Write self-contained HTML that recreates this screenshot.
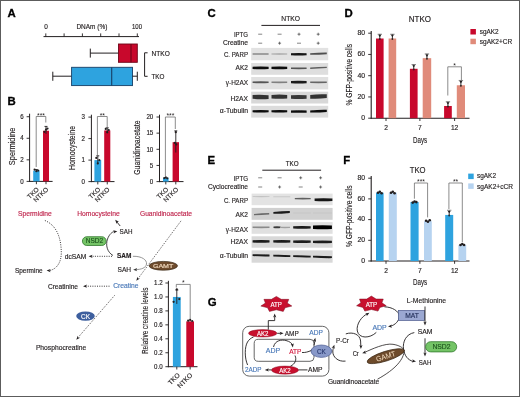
<!DOCTYPE html>
<html><head><meta charset="utf-8"><style>
html,body{margin:0;padding:0;background:#fff;}
svg{display:block;font-family:"Liberation Sans", sans-serif;will-change:transform;}
</style></head><body>
<svg width="520" height="397" viewBox="0 0 520 397">
<defs><filter id="bl" x="-20%" y="-100%" width="140%" height="300%"><feGaussianBlur stdDeviation="0.65"/></filter><filter id="bl2" x="-20%" y="-100%" width="140%" height="300%"><feGaussianBlur stdDeviation="0.45"/></filter></defs>
<rect x="0.5" y="0.5" width="519" height="396" fill="#fff" stroke="#5c5c5c" stroke-width="1"/>
<text x="7.60" y="16.80" font-size="11.4" text-anchor="start" fill="#000" font-weight="bold"  stroke="#000" stroke-width="0.3">A</text>
<text x="7.60" y="104.60" font-size="11.4" text-anchor="start" fill="#000" font-weight="bold"  stroke="#000" stroke-width="0.3">B</text>
<text x="207.60" y="17.20" font-size="11.4" text-anchor="start" fill="#000" font-weight="bold"  stroke="#000" stroke-width="0.3">C</text>
<text x="344.40" y="17.20" font-size="11.4" text-anchor="start" fill="#000" font-weight="bold"  stroke="#000" stroke-width="0.3">D</text>
<text x="207.60" y="164.00" font-size="11.4" text-anchor="start" fill="#000" font-weight="bold"  stroke="#000" stroke-width="0.3">E</text>
<text x="343.20" y="164.00" font-size="11.4" text-anchor="start" fill="#000" font-weight="bold"  stroke="#000" stroke-width="0.3">F</text>
<text x="207.80" y="306.40" font-size="11.4" text-anchor="start" fill="#000" font-weight="bold"  stroke="#000" stroke-width="0.3">G</text>
<line x1="43.50" y1="36.60" x2="139.00" y2="36.60" stroke="#231f20" stroke-width="1" />
<line x1="45.80" y1="33.40" x2="45.80" y2="36.60" stroke="#231f20" stroke-width="0.9" />
<line x1="64.10" y1="33.40" x2="64.10" y2="36.60" stroke="#231f20" stroke-width="0.9" />
<line x1="82.40" y1="33.40" x2="82.40" y2="36.60" stroke="#231f20" stroke-width="0.9" />
<line x1="100.70" y1="33.40" x2="100.70" y2="36.60" stroke="#231f20" stroke-width="0.9" />
<line x1="119.00" y1="33.40" x2="119.00" y2="36.60" stroke="#231f20" stroke-width="0.9" />
<line x1="137.30" y1="33.40" x2="137.30" y2="36.60" stroke="#231f20" stroke-width="0.9" />
<text x="44.20" y="29.30" font-size="6.9" fill="#231f20" font-weight="normal" stroke="#231f20" stroke-width="0.15" textLength="3.60" lengthAdjust="spacingAndGlyphs" >0</text>
<text x="76.40" y="29.30" font-size="6.9" fill="#231f20" font-weight="normal" stroke="#231f20" stroke-width="0.15" textLength="30.90" lengthAdjust="spacingAndGlyphs" >DNAm (%)</text>
<text x="132.00" y="29.30" font-size="6.9" fill="#231f20" font-weight="normal" stroke="#231f20" stroke-width="0.15" textLength="10.00" lengthAdjust="spacingAndGlyphs" >100</text>
<line x1="90.30" y1="48.60" x2="90.30" y2="57.60" stroke="#231f20" stroke-width="1" />
<line x1="90.30" y1="53.10" x2="118.50" y2="53.10" stroke="#231f20" stroke-width="1" />
<rect x="118.50" y="44.00" width="18.80" height="18.30" fill="#c8082c" stroke="#6e0618" stroke-width="0.9" />
<line x1="131.00" y1="44.00" x2="131.00" y2="62.30" stroke="#6e0618" stroke-width="1.1" />
<line x1="52.80" y1="71.70" x2="52.80" y2="80.80" stroke="#231f20" stroke-width="1" />
<line x1="52.80" y1="76.20" x2="71.60" y2="76.20" stroke="#231f20" stroke-width="1" />
<rect x="71.60" y="67.30" width="60.90" height="18.30" fill="#2ea3df" stroke="#173f66" stroke-width="0.9" />
<line x1="111.70" y1="67.30" x2="111.70" y2="85.60" stroke="#173f66" stroke-width="1.1" />
<line x1="132.50" y1="76.20" x2="137.30" y2="76.20" stroke="#231f20" stroke-width="1" />
<line x1="137.30" y1="71.70" x2="137.30" y2="80.80" stroke="#231f20" stroke-width="1" />
<path d="M147.6,52.8 H144.6 V76.3 H147.6" stroke="#231f20" stroke-width="1" fill="none" />
<text x="151.50" y="55.60" font-size="6.9" fill="#231f20" font-weight="normal" stroke="#231f20" stroke-width="0.15" textLength="18.30" lengthAdjust="spacingAndGlyphs" >NTKO</text>
<text x="151.50" y="78.80" font-size="6.9" fill="#231f20" font-weight="normal" stroke="#231f20" stroke-width="0.15" textLength="13.00" lengthAdjust="spacingAndGlyphs" >TKO</text>
<line x1="29.60" y1="113.70" x2="29.60" y2="181.90" stroke="#231f20" stroke-width="1" />
<line x1="29.10" y1="181.40" x2="52.60" y2="181.40" stroke="#231f20" stroke-width="1" />
<line x1="26.60" y1="181.40" x2="29.60" y2="181.40" stroke="#231f20" stroke-width="0.9" />
<text x="20.35" y="183.60" font-size="6.3" fill="#231f20" font-weight="normal" stroke="#231f20" stroke-width="0.15" textLength="3.45" lengthAdjust="spacingAndGlyphs" >0</text>
<line x1="26.60" y1="159.84" x2="29.60" y2="159.84" stroke="#231f20" stroke-width="0.9" />
<text x="20.35" y="162.04" font-size="6.3" fill="#231f20" font-weight="normal" stroke="#231f20" stroke-width="0.15" textLength="3.45" lengthAdjust="spacingAndGlyphs" >2</text>
<line x1="26.60" y1="138.28" x2="29.60" y2="138.28" stroke="#231f20" stroke-width="0.9" />
<text x="20.35" y="140.48" font-size="6.3" fill="#231f20" font-weight="normal" stroke="#231f20" stroke-width="0.15" textLength="3.45" lengthAdjust="spacingAndGlyphs" >4</text>
<line x1="26.60" y1="116.72" x2="29.60" y2="116.72" stroke="#231f20" stroke-width="0.9" />
<text x="20.35" y="118.92" font-size="6.3" fill="#231f20" font-weight="normal" stroke="#231f20" stroke-width="0.15" textLength="3.45" lengthAdjust="spacingAndGlyphs" >6</text>
<rect x="33.20" y="170.62" width="6.40" height="10.78" fill="#2ea3df" stroke="none" stroke-width="0" />
<line x1="36.40" y1="181.40" x2="36.40" y2="184.20" stroke="#231f20" stroke-width="0.9" />
<line x1="36.40" y1="171.70" x2="36.40" y2="169.54" stroke="#231f20" stroke-width="0.9" />
<line x1="34.90" y1="169.54" x2="37.90" y2="169.54" stroke="#231f20" stroke-width="0.9" />
<circle cx="34.60" cy="169.54" r="1.1" fill="#231f20"/>
<circle cx="36.40" cy="171.16" r="1.1" fill="#231f20"/>
<circle cx="38.20" cy="170.62" r="1.1" fill="#231f20"/>
<rect x="43.00" y="130.73" width="6.00" height="50.67" fill="#c8082c" stroke="none" stroke-width="0" />
<line x1="46.00" y1="181.40" x2="46.00" y2="184.20" stroke="#231f20" stroke-width="0.9" />
<line x1="46.00" y1="133.97" x2="46.00" y2="126.42" stroke="#231f20" stroke-width="0.9" />
<line x1="44.50" y1="126.42" x2="47.50" y2="126.42" stroke="#231f20" stroke-width="0.9" />
<circle cx="44.50" cy="131.81" r="1.1" fill="#231f20"/>
<circle cx="46.00" cy="129.66" r="1.1" fill="#231f20"/>
<circle cx="47.50" cy="128.58" r="1.1" fill="#231f20"/>
<path d="M36.2,167 V116.5 H45.8 V122.5" stroke="#666" stroke-width="0.75" fill="none" />
<text x="41.00" y="117.50" font-size="6.8" text-anchor="middle" fill="#231f20" font-weight="normal"  stroke="none">***</text>
<text x="0" y="0" font-size="8.2" text-anchor="middle" fill="#231f20" stroke="#231f20" stroke-width="0.15" textLength="37.5" lengthAdjust="spacingAndGlyphs" transform="translate(14.6,146.4) rotate(-90)">Spermidine</text>
<line x1="91.40" y1="114.70" x2="91.40" y2="182.10" stroke="#231f20" stroke-width="1" />
<line x1="90.90" y1="181.60" x2="114.50" y2="181.60" stroke="#231f20" stroke-width="1" />
<line x1="88.40" y1="181.60" x2="91.40" y2="181.60" stroke="#231f20" stroke-width="0.9" />
<text x="81.55" y="183.80" font-size="6.3" fill="#231f20" font-weight="normal" stroke="#231f20" stroke-width="0.15" textLength="3.45" lengthAdjust="spacingAndGlyphs" >0</text>
<line x1="88.40" y1="160.10" x2="91.40" y2="160.10" stroke="#231f20" stroke-width="0.9" />
<text x="81.55" y="162.30" font-size="6.3" fill="#231f20" font-weight="normal" stroke="#231f20" stroke-width="0.15" textLength="3.45" lengthAdjust="spacingAndGlyphs" >1</text>
<line x1="88.40" y1="138.60" x2="91.40" y2="138.60" stroke="#231f20" stroke-width="0.9" />
<text x="81.55" y="140.80" font-size="6.3" fill="#231f20" font-weight="normal" stroke="#231f20" stroke-width="0.15" textLength="3.45" lengthAdjust="spacingAndGlyphs" >2</text>
<line x1="88.40" y1="117.10" x2="91.40" y2="117.10" stroke="#231f20" stroke-width="0.9" />
<text x="81.55" y="119.30" font-size="6.3" fill="#231f20" font-weight="normal" stroke="#231f20" stroke-width="0.15" textLength="3.45" lengthAdjust="spacingAndGlyphs" >3</text>
<rect x="94.40" y="160.10" width="6.80" height="21.50" fill="#2ea3df" stroke="none" stroke-width="0" />
<line x1="97.80" y1="181.60" x2="97.80" y2="184.40" stroke="#231f20" stroke-width="0.9" />
<line x1="97.80" y1="164.40" x2="97.80" y2="155.80" stroke="#231f20" stroke-width="0.9" />
<line x1="96.30" y1="155.80" x2="99.30" y2="155.80" stroke="#231f20" stroke-width="0.9" />
<circle cx="96.30" cy="157.95" r="1.1" fill="#231f20"/>
<circle cx="97.80" cy="163.32" r="1.1" fill="#231f20"/>
<circle cx="99.30" cy="160.10" r="1.1" fill="#231f20"/>
<rect x="104.20" y="130.43" width="6.10" height="51.17" fill="#c8082c" stroke="none" stroke-width="0" />
<line x1="107.25" y1="181.60" x2="107.25" y2="184.40" stroke="#231f20" stroke-width="0.9" />
<line x1="107.25" y1="133.22" x2="107.25" y2="127.85" stroke="#231f20" stroke-width="0.9" />
<line x1="105.75" y1="127.85" x2="108.75" y2="127.85" stroke="#231f20" stroke-width="0.9" />
<circle cx="105.75" cy="128.92" r="1.1" fill="#231f20"/>
<circle cx="107.25" cy="132.15" r="1.1" fill="#231f20"/>
<circle cx="108.75" cy="130.00" r="1.1" fill="#231f20"/>
<path d="M97.4,156.5 V116.5 H107.2 V128.3" stroke="#666" stroke-width="0.75" fill="none" />
<text x="102.30" y="117.50" font-size="6.8" text-anchor="middle" fill="#231f20" font-weight="normal"  stroke="none">**</text>
<text x="0" y="0" font-size="8.2" text-anchor="middle" fill="#231f20" stroke="#231f20" stroke-width="0.15" textLength="44" lengthAdjust="spacingAndGlyphs" transform="translate(74.9,148) rotate(-90)">Homocysteine</text>
<line x1="159.50" y1="114.70" x2="159.50" y2="182.10" stroke="#231f20" stroke-width="1" />
<line x1="159.00" y1="181.60" x2="183.50" y2="181.60" stroke="#231f20" stroke-width="1" />
<line x1="156.50" y1="181.60" x2="159.50" y2="181.60" stroke="#231f20" stroke-width="0.9" />
<text x="149.85" y="183.80" font-size="6.3" fill="#231f20" font-weight="normal" stroke="#231f20" stroke-width="0.15" textLength="3.45" lengthAdjust="spacingAndGlyphs" >0</text>
<line x1="156.50" y1="165.45" x2="159.50" y2="165.45" stroke="#231f20" stroke-width="0.9" />
<text x="149.85" y="167.65" font-size="6.3" fill="#231f20" font-weight="normal" stroke="#231f20" stroke-width="0.15" textLength="3.45" lengthAdjust="spacingAndGlyphs" >5</text>
<line x1="156.50" y1="149.30" x2="159.50" y2="149.30" stroke="#231f20" stroke-width="0.9" />
<text x="146.40" y="151.50" font-size="6.3" fill="#231f20" font-weight="normal" stroke="#231f20" stroke-width="0.15" textLength="6.90" lengthAdjust="spacingAndGlyphs" >10</text>
<line x1="156.50" y1="133.15" x2="159.50" y2="133.15" stroke="#231f20" stroke-width="0.9" />
<text x="146.40" y="135.35" font-size="6.3" fill="#231f20" font-weight="normal" stroke="#231f20" stroke-width="0.15" textLength="6.90" lengthAdjust="spacingAndGlyphs" >15</text>
<line x1="156.50" y1="117.00" x2="159.50" y2="117.00" stroke="#231f20" stroke-width="0.9" />
<text x="146.40" y="119.20" font-size="6.3" fill="#231f20" font-weight="normal" stroke="#231f20" stroke-width="0.15" textLength="6.90" lengthAdjust="spacingAndGlyphs" >20</text>
<rect x="163.00" y="177.72" width="5.60" height="3.88" fill="#2ea3df" stroke="none" stroke-width="0" />
<line x1="165.80" y1="181.60" x2="165.80" y2="184.40" stroke="#231f20" stroke-width="0.9" />
<circle cx="164.30" cy="178.05" r="1.1" fill="#231f20"/>
<circle cx="165.80" cy="177.40" r="1.1" fill="#231f20"/>
<circle cx="167.30" cy="178.37" r="1.1" fill="#231f20"/>
<rect x="172.60" y="142.19" width="6.40" height="39.41" fill="#c8082c" stroke="none" stroke-width="0" />
<line x1="175.80" y1="181.60" x2="175.80" y2="184.40" stroke="#231f20" stroke-width="0.9" />
<line x1="175.80" y1="152.53" x2="175.80" y2="130.89" stroke="#231f20" stroke-width="0.9" />
<line x1="174.30" y1="130.89" x2="177.30" y2="130.89" stroke="#231f20" stroke-width="0.9" />
<circle cx="175.80" cy="132.18" r="1.1" fill="#231f20"/>
<circle cx="174.80" cy="142.84" r="1.1" fill="#231f20"/>
<circle cx="176.30" cy="144.45" r="1.1" fill="#231f20"/>
<path d="M165.4,176 V117 H175.3 V129" stroke="#666" stroke-width="0.75" fill="none" />
<text x="170.35" y="118.00" font-size="6.8" text-anchor="middle" fill="#231f20" font-weight="normal"  stroke="none">***</text>
<text x="0" y="0" font-size="8.2" text-anchor="middle" fill="#231f20" stroke="#231f20" stroke-width="0.15" textLength="54.4" lengthAdjust="spacingAndGlyphs" transform="translate(140,147.6) rotate(-90)">Guanidinoacetate</text>
<line x1="168.40" y1="280.80" x2="168.40" y2="367.20" stroke="#231f20" stroke-width="1" />
<line x1="167.90" y1="366.70" x2="197.50" y2="366.70" stroke="#231f20" stroke-width="1" />
<line x1="165.40" y1="366.70" x2="168.40" y2="366.70" stroke="#231f20" stroke-width="0.9" />
<text x="154.00" y="368.90" font-size="6.3" fill="#231f20" font-weight="normal" stroke="#231f20" stroke-width="0.15" textLength="8.60" lengthAdjust="spacingAndGlyphs" >0.0</text>
<line x1="165.40" y1="352.75" x2="168.40" y2="352.75" stroke="#231f20" stroke-width="0.9" />
<text x="154.00" y="354.95" font-size="6.3" fill="#231f20" font-weight="normal" stroke="#231f20" stroke-width="0.15" textLength="8.60" lengthAdjust="spacingAndGlyphs" >0.2</text>
<line x1="165.40" y1="338.80" x2="168.40" y2="338.80" stroke="#231f20" stroke-width="0.9" />
<text x="154.00" y="341.00" font-size="6.3" fill="#231f20" font-weight="normal" stroke="#231f20" stroke-width="0.15" textLength="8.60" lengthAdjust="spacingAndGlyphs" >0.4</text>
<line x1="165.40" y1="324.85" x2="168.40" y2="324.85" stroke="#231f20" stroke-width="0.9" />
<text x="154.00" y="327.05" font-size="6.3" fill="#231f20" font-weight="normal" stroke="#231f20" stroke-width="0.15" textLength="8.60" lengthAdjust="spacingAndGlyphs" >0.6</text>
<line x1="165.40" y1="310.90" x2="168.40" y2="310.90" stroke="#231f20" stroke-width="0.9" />
<text x="154.00" y="313.10" font-size="6.3" fill="#231f20" font-weight="normal" stroke="#231f20" stroke-width="0.15" textLength="8.60" lengthAdjust="spacingAndGlyphs" >0.8</text>
<line x1="165.40" y1="296.95" x2="168.40" y2="296.95" stroke="#231f20" stroke-width="0.9" />
<text x="154.00" y="299.15" font-size="6.3" fill="#231f20" font-weight="normal" stroke="#231f20" stroke-width="0.15" textLength="8.60" lengthAdjust="spacingAndGlyphs" >1.0</text>
<line x1="165.40" y1="283.00" x2="168.40" y2="283.00" stroke="#231f20" stroke-width="0.9" />
<text x="154.00" y="285.20" font-size="6.3" fill="#231f20" font-weight="normal" stroke="#231f20" stroke-width="0.15" textLength="8.60" lengthAdjust="spacingAndGlyphs" >1.2</text>
<rect x="172.90" y="296.95" width="7.80" height="69.75" fill="#2ea3df" stroke="none" stroke-width="0" />
<line x1="176.80" y1="366.70" x2="176.80" y2="369.50" stroke="#231f20" stroke-width="0.9" />
<line x1="176.80" y1="303.93" x2="176.80" y2="289.97" stroke="#231f20" stroke-width="0.9" />
<line x1="175.30" y1="289.97" x2="178.30" y2="289.97" stroke="#231f20" stroke-width="0.9" />
<circle cx="176.80" cy="289.28" r="1.1" fill="#231f20"/>
<circle cx="173.60" cy="301.83" r="1.1" fill="#231f20"/>
<circle cx="179.30" cy="299.04" r="1.1" fill="#231f20"/>
<rect x="186.30" y="321.36" width="7.70" height="45.34" fill="#c8082c" stroke="none" stroke-width="0" />
<line x1="190.15" y1="366.70" x2="190.15" y2="369.50" stroke="#231f20" stroke-width="0.9" />
<circle cx="188.15" cy="320.66" r="1.1" fill="#231f20"/>
<circle cx="190.15" cy="319.97" r="1.1" fill="#231f20"/>
<circle cx="192.15" cy="321.01" r="1.1" fill="#231f20"/>
<path d="M176.3,287.5 V284.4 H190.2 V319" stroke="#666" stroke-width="0.75" fill="none" />
<text x="183.25" y="285.40" font-size="6.8" text-anchor="middle" fill="#231f20" font-weight="normal"  stroke="none">*</text>
<text x="0" y="0" font-size="9.2" text-anchor="middle" fill="#231f20" stroke="#231f20" stroke-width="0.15" textLength="66.5" lengthAdjust="spacingAndGlyphs" transform="translate(148.0,320.8) rotate(-90)">Relative creatine levels</text>
<text x="0" y="0" font-size="6.5" text-anchor="end" fill="#231f20" stroke="#231f20" stroke-width="0.15" transform="translate(39.30,189.80) rotate(-45)">TKO</text>
<text x="0" y="0" font-size="6.5" text-anchor="end" fill="#231f20" stroke="#231f20" stroke-width="0.15" transform="translate(48.80,189.80) rotate(-45)">NTKO</text>
<text x="0" y="0" font-size="6.5" text-anchor="end" fill="#231f20" stroke="#231f20" stroke-width="0.15" transform="translate(100.80,189.80) rotate(-45)">TKO</text>
<text x="0" y="0" font-size="6.5" text-anchor="end" fill="#231f20" stroke="#231f20" stroke-width="0.15" transform="translate(110.20,189.80) rotate(-45)">NTKO</text>
<text x="0" y="0" font-size="6.5" text-anchor="end" fill="#231f20" stroke="#231f20" stroke-width="0.15" transform="translate(168.80,189.80) rotate(-45)">TKO</text>
<text x="0" y="0" font-size="6.5" text-anchor="end" fill="#231f20" stroke="#231f20" stroke-width="0.15" transform="translate(178.80,189.80) rotate(-45)">NTKO</text>
<text x="0" y="0" font-size="6.6" text-anchor="end" fill="#231f20" stroke="#231f20" stroke-width="0.15" transform="translate(180.30,375.60) rotate(-45)">TKO</text>
<text x="0" y="0" font-size="6.6" text-anchor="end" fill="#231f20" stroke="#231f20" stroke-width="0.15" transform="translate(193.00,375.60) rotate(-45)">NTKO</text>
<text x="18.00" y="216.40" font-size="6.6" fill="#c0284f" font-weight="normal" stroke="#c0284f" stroke-width="0.15" textLength="33.80" lengthAdjust="spacingAndGlyphs" >Spermidine</text>
<text x="77.20" y="216.40" font-size="6.6" fill="#c0284f" font-weight="normal" stroke="#c0284f" stroke-width="0.15" textLength="42.60" lengthAdjust="spacingAndGlyphs" >Homocysteine</text>
<text x="140.00" y="216.40" font-size="6.6" fill="#c0284f" font-weight="normal" stroke="#c0284f" stroke-width="0.15" textLength="52.00" lengthAdjust="spacingAndGlyphs" >Guanidinoacetate</text>
<text x="119.60" y="233.60" font-size="6.6" fill="#231f20" font-weight="normal" stroke="#231f20" stroke-width="0.15" textLength="12.90" lengthAdjust="spacingAndGlyphs" >SAH</text>
<text x="117.00" y="258.40" font-size="6.6" fill="#231f20" font-weight="bold" stroke="#231f20" stroke-width="0.15" textLength="14.50" lengthAdjust="spacingAndGlyphs" >SAM</text>
<text x="64.70" y="258.70" font-size="6.6" fill="#231f20" font-weight="normal" stroke="#231f20" stroke-width="0.15" textLength="21.60" lengthAdjust="spacingAndGlyphs" >dcSAM</text>
<text x="117.50" y="271.60" font-size="6.6" fill="#231f20" font-weight="normal" stroke="#231f20" stroke-width="0.15" textLength="13.60" lengthAdjust="spacingAndGlyphs" >SAH</text>
<text x="14.90" y="272.60" font-size="6.6" fill="#231f20" font-weight="normal" stroke="#231f20" stroke-width="0.15" textLength="27.70" lengthAdjust="spacingAndGlyphs" >Spermine</text>
<text x="47.90" y="288.60" font-size="6.6" fill="#231f20" font-weight="normal" stroke="#231f20" stroke-width="0.15" textLength="30.10" lengthAdjust="spacingAndGlyphs" >Creatinine</text>
<text x="113.20" y="288.20" font-size="6.6" fill="#4a79b8" font-weight="normal" stroke="#4a79b8" stroke-width="0.15" textLength="25.30" lengthAdjust="spacingAndGlyphs" >Creatine</text>
<text x="35.90" y="349.60" font-size="6.6" fill="#231f20" font-weight="normal" stroke="#231f20" stroke-width="0.15" textLength="50.40" lengthAdjust="spacingAndGlyphs" >Phosphocreatine</text>
<rect x="82.40" y="236.70" width="23.80" height="8.80" fill="#74c466" stroke="#347a30" stroke-width="0.8" rx="4.4"/>
<text x="85.80" y="243.20" font-size="6.7" fill="#1c521c" font-weight="normal" stroke="#1c521c" stroke-width="0.15" textLength="17.40" lengthAdjust="spacingAndGlyphs" >NSD2</text>
<ellipse cx="163.30" cy="265.80" rx="14.20" ry="4.40" fill="#6e4b2c" stroke="#3a2816" stroke-width="0.7" />
<text x="152.90" y="268.00" font-size="6.2" fill="#f2dcc0" font-weight="normal" stroke="#f2dcc0" stroke-width="0.15" textLength="20.40" lengthAdjust="spacingAndGlyphs" >GAMT</text>
<ellipse cx="85.50" cy="316.10" rx="9.30" ry="4.70" fill="#3d5f9e" stroke="none" stroke-width="0" />
<text x="81.00" y="318.60" font-size="6.4" fill="#fff" font-weight="normal" stroke="#fff" stroke-width="0.15" textLength="9.00" lengthAdjust="spacingAndGlyphs" >CK</text>
<path d="M44.9,220.5 C58,226 61,240 61.3,252 C61.5,262 57,269 49.5,270.6" stroke="#231f20" stroke-width="0.9" fill="none" stroke-dasharray="1 1.3"/>
<path d="M46.60,270.60 L50.60,269.00 L49.60,270.60 L50.60,272.20 Z" fill="#231f20"/>
<path d="M112,256.3 H91" stroke="#231f20" stroke-width="0.9" fill="none" stroke-dasharray="1 1.3"/>
<path d="M88.60,256.30 L92.60,254.70 L91.60,256.30 L92.60,257.90 Z" fill="#231f20"/>
<path d="M109.5,286.2 H86" stroke="#231f20" stroke-width="0.9" fill="none" stroke-dasharray="1 1.3"/>
<path d="M83.00,286.20 L87.00,284.60 L86.00,286.20 L87.00,287.80 Z" fill="#231f20"/>
<line x1="120.20" y1="226.00" x2="116.60" y2="221.60" stroke="#231f20" stroke-width="0.9" />
<path d="M115.20,219.80 L119.00,221.84 L117.13,222.10 L116.55,223.89 Z" fill="#231f20"/>
<path d="M113,255.5 C107,252 105.5,245 107.5,239 C109.5,234 112,232 114.5,231.4" stroke="#333" stroke-width="0.9" fill="none" />
<path d="M117.30,231.20 L113.64,233.47 L114.35,231.72 L113.08,230.32 Z" fill="#231f20"/>
<path d="M132.9,256.3 C142,256 147,260 146.5,264 C146,268 141,269.5 136,269.6" stroke="#8a8a8a" stroke-width="0.9" fill="none" />
<path d="M133.20,269.70 L137.20,268.10 L136.20,269.70 L137.20,271.30 Z" fill="#333"/>
<path d="M181,220.9 L138.3,278.3" stroke="#231f20" stroke-width="0.8" fill="none" stroke-dasharray="1 1.3"/>
<path d="M136.30,280.80 L137.43,276.64 L138.11,278.40 L139.99,278.57 Z" fill="#231f20"/>
<path d="M114.6,295.4 L78.5,337" stroke="#231f20" stroke-width="0.8" fill="none" stroke-dasharray="1 1.3"/>
<path d="M76.30,339.80 L77.72,335.73 L78.27,337.54 L80.13,337.83 Z" fill="#231f20"/>
<text x="281.30" y="21.00" font-size="6.9" fill="#231f20" font-weight="normal" stroke="#231f20" stroke-width="0.15" textLength="18.70" lengthAdjust="spacingAndGlyphs" >NTKO</text>
<line x1="261.40" y1="25.40" x2="320.00" y2="25.40" stroke="#231f20" stroke-width="1" />
<text x="233.90" y="37.20" font-size="6.8" fill="#231f20" font-weight="normal" stroke="#231f20" stroke-width="0.15" textLength="14.10" lengthAdjust="spacingAndGlyphs" >IPTG</text>
<text x="222.90" y="45.40" font-size="6.8" fill="#231f20" font-weight="normal" stroke="#231f20" stroke-width="0.15" textLength="25.10" lengthAdjust="spacingAndGlyphs" >Creatine</text>
<line x1="258.20" y1="34.20" x2="262.20" y2="34.20" stroke="#333" stroke-width="0.6" />
<line x1="258.20" y1="43.20" x2="262.20" y2="43.20" stroke="#333" stroke-width="0.6" />
<line x1="277.60" y1="34.20" x2="281.60" y2="34.20" stroke="#333" stroke-width="0.6" />
<line x1="278.10" y1="43.20" x2="281.10" y2="43.20" stroke="#333" stroke-width="0.65" />
<line x1="279.60" y1="41.70" x2="279.60" y2="44.70" stroke="#333" stroke-width="0.65" />
<line x1="297.50" y1="34.20" x2="300.50" y2="34.20" stroke="#333" stroke-width="0.65" />
<line x1="299.00" y1="32.70" x2="299.00" y2="35.70" stroke="#333" stroke-width="0.65" />
<line x1="297.00" y1="43.20" x2="301.00" y2="43.20" stroke="#333" stroke-width="0.6" />
<line x1="316.70" y1="34.20" x2="319.70" y2="34.20" stroke="#333" stroke-width="0.65" />
<line x1="318.20" y1="32.70" x2="318.20" y2="35.70" stroke="#333" stroke-width="0.65" />
<line x1="316.70" y1="43.20" x2="319.70" y2="43.20" stroke="#333" stroke-width="0.65" />
<line x1="318.20" y1="41.70" x2="318.20" y2="44.70" stroke="#333" stroke-width="0.65" />
<rect x="251.20" y="47.90" width="77.00" height="12.40" fill="#e2e2e2" stroke="none" stroke-width="0" />
<path d="M252.60,53.36 Q260.60,53.08 268.60,53.36 L268.60,54.64 Q260.60,54.92 252.60,54.64 Z" fill="#888" filter="url(#bl)"/>
<path d="M271.50,53.44 Q279.35,53.20 287.20,53.44 L287.20,54.56 Q279.35,54.80 271.50,54.56 Z" fill="#a6a6a6" filter="url(#bl)"/>
<path d="M291.00,53.16 Q298.80,52.71 306.60,53.16 L306.60,55.24 Q298.80,55.70 291.00,55.24 Z" fill="#151515" filter="url(#bl)"/>
<path d="M310.20,53.20 Q318.50,52.55 326.80,52.60 L326.80,54.20 Q318.50,54.85 310.20,54.80 Z" fill="#505050" filter="url(#bl)"/>
<rect x="251.20" y="63.00" width="77.00" height="11.80" fill="#dedede" stroke="none" stroke-width="0" />
<path d="M252.60,66.68 Q260.60,66.19 268.60,66.68 L268.60,68.92 Q260.60,69.41 252.60,68.92 Z" fill="#0a0a0a" filter="url(#bl)"/>
<path d="M271.50,66.68 Q279.35,66.19 287.20,66.68 L287.20,68.92 Q279.35,69.41 271.50,68.92 Z" fill="#0a0a0a" filter="url(#bl)"/>
<path d="M291.00,67.58 Q298.80,67.27 306.60,67.58 L306.60,69.02 Q298.80,69.33 291.00,69.02 Z" fill="#555" filter="url(#bl)"/>
<path d="M310.20,67.48 Q318.50,66.77 326.80,66.68 L326.80,68.12 Q318.50,68.83 310.20,68.92 Z" fill="#606060" filter="url(#bl)"/>
<rect x="251.20" y="77.00" width="77.00" height="12.40" fill="#e0e0e0" stroke="none" stroke-width="0" />
<path d="M252.60,81.50 Q260.60,81.15 268.60,81.50 L268.60,83.10 Q260.60,83.45 252.60,83.10 Z" fill="#555" filter="url(#bl)"/>
<path d="M271.50,81.62 Q279.35,81.32 287.20,81.62 L287.20,82.98 Q279.35,83.28 271.50,82.98 Z" fill="#808080" filter="url(#bl)"/>
<path d="M291.00,81.04 Q298.80,80.53 306.60,81.04 L306.60,83.36 Q298.80,83.87 291.00,83.36 Z" fill="#1a1a1a" filter="url(#bl)"/>
<path d="M310.20,81.54 Q318.50,81.21 326.80,81.54 L326.80,83.06 Q318.50,83.39 310.20,83.06 Z" fill="#666" filter="url(#bl)"/>
<rect x="251.20" y="91.70" width="77.00" height="11.80" fill="#d8d8d8" stroke="none" stroke-width="0" />
<path d="M252.60,95.06 Q260.60,94.41 268.60,95.36 L268.60,99.04 Q260.60,99.70 252.60,98.74 Z" fill="#333" filter="url(#bl)"/>
<path d="M271.50,94.94 Q279.35,94.17 287.20,94.94 L287.20,98.46 Q279.35,99.23 271.50,98.46 Z" fill="#333" filter="url(#bl)"/>
<path d="M291.00,95.32 Q298.80,94.58 306.60,95.32 L306.60,98.68 Q298.80,99.42 291.00,98.68 Z" fill="#383838" filter="url(#bl)"/>
<path d="M310.20,94.96 Q318.50,93.86 326.80,94.36 L326.80,98.04 Q318.50,99.14 310.20,98.64 Z" fill="#333" filter="url(#bl)"/>
<rect x="251.20" y="105.80" width="77.00" height="11.80" fill="#dcdcdc" stroke="none" stroke-width="0" />
<path d="M252.60,110.26 Q260.60,109.80 268.60,110.26 L268.60,112.34 Q260.60,112.80 252.60,112.34 Z" fill="#0a0a0a" filter="url(#bl)"/>
<path d="M271.50,110.26 Q279.35,109.80 287.20,110.26 L287.20,112.34 Q279.35,112.80 271.50,112.34 Z" fill="#0a0a0a" filter="url(#bl)"/>
<path d="M291.00,110.56 Q298.80,110.10 306.60,110.56 L306.60,112.64 Q298.80,113.09 291.00,112.64 Z" fill="#0a0a0a" filter="url(#bl)"/>
<path d="M310.20,110.46 Q318.50,109.70 326.80,109.86 L326.80,111.94 Q318.50,112.70 310.20,112.54 Z" fill="#0a0a0a" filter="url(#bl)"/>
<text x="223.90" y="57.20" font-size="6.8" fill="#231f20" font-weight="normal" stroke="#231f20" stroke-width="0.15" textLength="24.10" lengthAdjust="spacingAndGlyphs" >C. PARP</text>
<text x="235.60" y="70.00" font-size="6.8" fill="#231f20" font-weight="normal" stroke="#231f20" stroke-width="0.15" textLength="12.40" lengthAdjust="spacingAndGlyphs" >AK2</text>
<text x="225.80" y="84.80" font-size="6.8" fill="#231f20" font-weight="normal" stroke="#231f20" stroke-width="0.15" textLength="22.20" lengthAdjust="spacingAndGlyphs" >γ-H2AX</text>
<text x="230.50" y="100.80" font-size="6.8" fill="#231f20" font-weight="normal" stroke="#231f20" stroke-width="0.15" textLength="17.50" lengthAdjust="spacingAndGlyphs" >H2AX</text>
<text x="219.70" y="113.40" font-size="6.8" fill="#231f20" font-weight="normal" stroke="#231f20" stroke-width="0.15" textLength="28.30" lengthAdjust="spacingAndGlyphs" >α-Tubulin</text>
<text x="285.70" y="166.10" font-size="6.9" fill="#231f20" font-weight="normal" stroke="#231f20" stroke-width="0.15" textLength="12.90" lengthAdjust="spacingAndGlyphs" >TKO</text>
<line x1="262.30" y1="170.20" x2="321.10" y2="170.20" stroke="#231f20" stroke-width="1" />
<text x="233.60" y="181.20" font-size="6.8" fill="#231f20" font-weight="normal" stroke="#231f20" stroke-width="0.15" textLength="14.40" lengthAdjust="spacingAndGlyphs" >IPTG</text>
<text x="208.00" y="189.30" font-size="6.8" fill="#231f20" font-weight="normal" stroke="#231f20" stroke-width="0.15" textLength="40.00" lengthAdjust="spacingAndGlyphs" >Cyclocreatine</text>
<line x1="258.20" y1="177.80" x2="262.20" y2="177.80" stroke="#333" stroke-width="0.6" />
<line x1="258.20" y1="187.00" x2="262.20" y2="187.00" stroke="#333" stroke-width="0.6" />
<line x1="277.60" y1="177.80" x2="281.60" y2="177.80" stroke="#333" stroke-width="0.6" />
<line x1="278.10" y1="187.00" x2="281.10" y2="187.00" stroke="#333" stroke-width="0.65" />
<line x1="279.60" y1="185.50" x2="279.60" y2="188.50" stroke="#333" stroke-width="0.65" />
<line x1="299.20" y1="177.80" x2="302.20" y2="177.80" stroke="#333" stroke-width="0.65" />
<line x1="300.70" y1="176.30" x2="300.70" y2="179.30" stroke="#333" stroke-width="0.65" />
<line x1="298.70" y1="187.00" x2="302.70" y2="187.00" stroke="#333" stroke-width="0.6" />
<line x1="319.10" y1="177.80" x2="322.10" y2="177.80" stroke="#333" stroke-width="0.65" />
<line x1="320.60" y1="176.30" x2="320.60" y2="179.30" stroke="#333" stroke-width="0.65" />
<line x1="319.10" y1="187.00" x2="322.10" y2="187.00" stroke="#333" stroke-width="0.65" />
<line x1="320.60" y1="185.50" x2="320.60" y2="188.50" stroke="#333" stroke-width="0.65" />
<rect x="251.60" y="193.60" width="81.00" height="11.60" fill="#e3e3e3" stroke="none" stroke-width="0" />
<path d="M252.60,196.16 Q261.05,195.97 269.50,196.16 L269.50,197.04 Q261.05,197.23 252.60,197.04 Z" fill="#c2c2c2" filter="url(#bl)"/>
<path d="M273.30,196.36 Q281.80,196.17 290.30,196.36 L290.30,197.24 Q281.80,197.43 273.30,197.24 Z" fill="#c8c8c8" filter="url(#bl)"/>
<path d="M294.80,197.92 Q302.75,197.62 310.70,197.92 L310.70,199.28 Q302.75,199.58 294.80,199.28 Z" fill="#606060" filter="url(#bl)"/>
<path d="M314.60,198.60 Q323.50,198.08 332.40,198.60 L332.40,201.00 Q323.50,201.53 314.60,201.00 Z" fill="#151515" filter="url(#bl)"/>
<rect x="251.60" y="207.90" width="81.00" height="11.90" fill="#d0d0d0" stroke="none" stroke-width="0" />
<path d="M254.00,213.92 Q261.60,213.22 269.20,213.12 L269.20,214.48 Q261.60,215.18 254.00,215.28 Z" fill="#6a6a6a" filter="url(#bl)"/>
<path d="M273.40,211.98 Q281.60,211.13 289.80,211.08 L289.80,212.92 Q281.60,213.77 273.40,213.82 Z" fill="#1a1a1a" filter="url(#bl)"/>
<path d="M293.20,212.60 Q301.95,212.43 310.70,212.60 L310.70,213.40 Q301.95,213.57 293.20,213.40 Z" fill="#c6c6c6" filter="url(#bl)"/>
<path d="M313.00,212.60 Q322.45,212.43 331.90,212.60 L331.90,213.40 Q322.45,213.57 313.00,213.40 Z" fill="#c6c6c6" filter="url(#bl)"/>
<rect x="251.60" y="222.10" width="81.00" height="11.70" fill="#e0e0e0" stroke="none" stroke-width="0" />
<path d="M252.60,226.58 Q261.05,226.27 269.50,226.58 L269.50,228.02 Q261.05,228.34 252.60,228.02 Z" fill="#8a8a8a" filter="url(#bl)"/>
<path d="M293.20,226.18 Q301.95,225.69 310.70,226.18 L310.70,228.42 Q301.95,228.91 293.20,228.42 Z" fill="#1a1a1a" filter="url(#bl)"/>
<path d="M313.00,225.62 Q322.45,224.89 331.90,225.62 L331.90,228.98 Q322.45,229.72 313.00,228.98 Z" fill="#000" filter="url(#bl)"/>
<path d="M273.50,226.50 Q277.00,226.15 280.50,226.50 L280.50,228.10 Q277.00,228.45 273.50,228.10 Z" fill="#3a3a3a" filter="url(#bl)"/>
<path d="M280.00,226.80 Q285.00,226.54 290.00,226.80 L290.00,228.00 Q285.00,228.26 280.00,228.00 Z" fill="#a0a0a0" filter="url(#bl)"/>
<rect x="251.60" y="236.30" width="81.00" height="11.40" fill="#d8d8d8" stroke="none" stroke-width="0" />
<path d="M252.60,240.20 Q261.05,239.68 269.50,240.20 L269.50,242.60 Q261.05,243.12 252.60,242.60 Z" fill="#1a1a1a" filter="url(#bl)"/>
<path d="M273.30,240.28 Q281.80,239.79 290.30,240.28 L290.30,242.52 Q281.80,243.01 273.30,242.52 Z" fill="#1a1a1a" filter="url(#bl)"/>
<path d="M293.20,240.48 Q301.95,239.99 310.70,240.48 L310.70,242.72 Q301.95,243.21 293.20,242.72 Z" fill="#1a1a1a" filter="url(#bl)"/>
<path d="M313.00,240.68 Q322.45,240.19 331.90,240.68 L331.90,242.92 Q322.45,243.41 313.00,242.92 Z" fill="#1f1f1f" filter="url(#bl)"/>
<rect x="251.60" y="250.40" width="81.00" height="12.30" fill="#d8d8d8" stroke="none" stroke-width="0" />
<path d="M252.60,254.18 Q261.05,253.98 269.50,254.58 L269.50,256.42 Q261.05,256.62 252.60,256.02 Z" fill="#1a1a1a" filter="url(#bl)"/>
<path d="M273.30,254.78 Q281.80,254.58 290.30,255.18 L290.30,257.02 Q281.80,257.22 273.30,256.62 Z" fill="#1a1a1a" filter="url(#bl)"/>
<path d="M293.20,255.28 Q301.95,255.08 310.70,255.68 L310.70,257.52 Q301.95,257.72 293.20,257.12 Z" fill="#1a1a1a" filter="url(#bl)"/>
<path d="M313.00,255.68 Q322.45,255.58 331.90,256.28 L331.90,258.12 Q322.45,258.22 313.00,257.52 Z" fill="#1a1a1a" filter="url(#bl)"/>
<text x="223.90" y="202.80" font-size="6.8" fill="#231f20" font-weight="normal" stroke="#231f20" stroke-width="0.15" textLength="24.10" lengthAdjust="spacingAndGlyphs" >C. PARP</text>
<text x="235.60" y="216.90" font-size="6.8" fill="#231f20" font-weight="normal" stroke="#231f20" stroke-width="0.15" textLength="12.40" lengthAdjust="spacingAndGlyphs" >AK2</text>
<text x="225.80" y="231.60" font-size="6.8" fill="#231f20" font-weight="normal" stroke="#231f20" stroke-width="0.15" textLength="22.20" lengthAdjust="spacingAndGlyphs" >γ-H2AX</text>
<text x="230.50" y="244.30" font-size="6.8" fill="#231f20" font-weight="normal" stroke="#231f20" stroke-width="0.15" textLength="17.50" lengthAdjust="spacingAndGlyphs" >H2AX</text>
<text x="219.70" y="258.10" font-size="6.8" fill="#231f20" font-weight="normal" stroke="#231f20" stroke-width="0.15" textLength="28.30" lengthAdjust="spacingAndGlyphs" >α-Tubulin</text>
<line x1="371.20" y1="30.90" x2="371.20" y2="118.70" stroke="#231f20" stroke-width="1.1" />
<line x1="370.70" y1="118.20" x2="469.50" y2="118.20" stroke="#231f20" stroke-width="1.1" />
<line x1="368.20" y1="118.20" x2="371.20" y2="118.20" stroke="#231f20" stroke-width="0.9" />
<text x="361.20" y="120.00" font-size="6.4" fill="#231f20" font-weight="normal" stroke="#231f20" stroke-width="0.15" textLength="3.80" lengthAdjust="spacingAndGlyphs" >0</text>
<line x1="368.20" y1="96.95" x2="371.20" y2="96.95" stroke="#231f20" stroke-width="0.9" />
<text x="357.40" y="98.75" font-size="6.4" fill="#231f20" font-weight="normal" stroke="#231f20" stroke-width="0.15" textLength="7.60" lengthAdjust="spacingAndGlyphs" >20</text>
<line x1="368.20" y1="75.70" x2="371.20" y2="75.70" stroke="#231f20" stroke-width="0.9" />
<text x="357.40" y="77.50" font-size="6.4" fill="#231f20" font-weight="normal" stroke="#231f20" stroke-width="0.15" textLength="7.60" lengthAdjust="spacingAndGlyphs" >40</text>
<line x1="368.20" y1="54.45" x2="371.20" y2="54.45" stroke="#231f20" stroke-width="0.9" />
<text x="357.40" y="56.25" font-size="6.4" fill="#231f20" font-weight="normal" stroke="#231f20" stroke-width="0.15" textLength="7.60" lengthAdjust="spacingAndGlyphs" >60</text>
<line x1="368.20" y1="33.20" x2="371.20" y2="33.20" stroke="#231f20" stroke-width="0.9" />
<text x="357.40" y="35.00" font-size="6.4" fill="#231f20" font-weight="normal" stroke="#231f20" stroke-width="0.15" textLength="7.60" lengthAdjust="spacingAndGlyphs" >80</text>
<rect x="376.00" y="38.51" width="7.60" height="79.69" fill="#c8082c" stroke="none" stroke-width="0" />
<line x1="379.80" y1="39.71" x2="379.80" y2="34.26" stroke="#231f20" stroke-width="0.9" />
<line x1="377.60" y1="34.26" x2="382.00" y2="34.26" stroke="#666" stroke-width="0.8" />
<path d="M378.30,34.86 L381.30,34.86 L379.80,37.26 Z" fill="#231f20"/>
<circle cx="379.80" cy="39.11" r="1.0" fill="#231f20" opacity="0.7"/>
<rect x="388.60" y="38.51" width="7.60" height="79.69" fill="#e08b7a" stroke="none" stroke-width="0" />
<line x1="392.40" y1="39.71" x2="392.40" y2="34.26" stroke="#231f20" stroke-width="0.9" />
<line x1="390.20" y1="34.26" x2="394.60" y2="34.26" stroke="#666" stroke-width="0.8" />
<path d="M390.90,34.86 L393.90,34.86 L392.40,37.26 Z" fill="#231f20"/>
<circle cx="392.40" cy="39.11" r="1.0" fill="#231f20" opacity="0.7"/>
<rect x="409.90" y="68.79" width="7.70" height="49.41" fill="#c8082c" stroke="none" stroke-width="0" />
<line x1="413.75" y1="69.99" x2="413.75" y2="64.54" stroke="#231f20" stroke-width="0.9" />
<line x1="411.55" y1="64.54" x2="415.95" y2="64.54" stroke="#666" stroke-width="0.8" />
<path d="M412.25,65.14 L415.25,65.14 L413.75,67.54 Z" fill="#231f20"/>
<circle cx="413.75" cy="69.39" r="1.0" fill="#231f20" opacity="0.7"/>
<rect x="422.70" y="58.17" width="8.50" height="60.03" fill="#e08b7a" stroke="none" stroke-width="0" />
<line x1="426.95" y1="59.37" x2="426.95" y2="53.92" stroke="#231f20" stroke-width="0.9" />
<line x1="424.75" y1="53.92" x2="429.15" y2="53.92" stroke="#666" stroke-width="0.8" />
<path d="M425.45,54.52 L428.45,54.52 L426.95,56.92 Z" fill="#231f20"/>
<circle cx="426.95" cy="58.77" r="1.0" fill="#231f20" opacity="0.7"/>
<rect x="444.10" y="105.98" width="7.70" height="12.22" fill="#c8082c" stroke="none" stroke-width="0" />
<line x1="447.95" y1="107.18" x2="447.95" y2="101.73" stroke="#231f20" stroke-width="0.9" />
<line x1="445.75" y1="101.73" x2="450.15" y2="101.73" stroke="#666" stroke-width="0.8" />
<path d="M446.45,102.33 L449.45,102.33 L447.95,104.73 Z" fill="#231f20"/>
<circle cx="447.95" cy="106.58" r="1.0" fill="#231f20" opacity="0.7"/>
<rect x="456.80" y="85.26" width="8.20" height="32.94" fill="#e08b7a" stroke="none" stroke-width="0" />
<line x1="460.90" y1="86.46" x2="460.90" y2="80.48" stroke="#231f20" stroke-width="0.9" />
<line x1="458.70" y1="80.48" x2="463.10" y2="80.48" stroke="#666" stroke-width="0.8" />
<path d="M459.40,81.08 L462.40,81.08 L460.90,83.48 Z" fill="#231f20"/>
<circle cx="460.90" cy="85.86" r="1.0" fill="#231f20" opacity="0.7"/>
<line x1="386.00" y1="118.20" x2="386.00" y2="121.00" stroke="#231f20" stroke-width="0.9" />
<text x="384.15" y="130.00" font-size="6.4" fill="#231f20" font-weight="normal" stroke="#231f20" stroke-width="0.15" textLength="3.70" lengthAdjust="spacingAndGlyphs" >2</text>
<line x1="419.90" y1="118.20" x2="419.90" y2="121.00" stroke="#231f20" stroke-width="0.9" />
<text x="418.05" y="130.00" font-size="6.4" fill="#231f20" font-weight="normal" stroke="#231f20" stroke-width="0.15" textLength="3.70" lengthAdjust="spacingAndGlyphs" >7</text>
<line x1="454.60" y1="118.20" x2="454.60" y2="121.00" stroke="#231f20" stroke-width="0.9" />
<text x="450.90" y="130.00" font-size="6.4" fill="#231f20" font-weight="normal" stroke="#231f20" stroke-width="0.15" textLength="7.40" lengthAdjust="spacingAndGlyphs" >12</text>
<text x="413.10" y="142.60" font-size="8.8" fill="#231f20" font-weight="normal" stroke="#231f20" stroke-width="0.15" textLength="14.10" lengthAdjust="spacingAndGlyphs" >Days</text>
<text x="408.80" y="22.20" font-size="8.2" fill="#231f20" font-weight="normal" stroke="#231f20" stroke-width="0.15" textLength="22.20" lengthAdjust="spacingAndGlyphs" >NTKO</text>
<rect x="470.40" y="29.00" width="5.50" height="5.50" fill="#c8082c" stroke="none" stroke-width="0" />
<text x="479.80" y="34.00" font-size="6.4" fill="#231f20" font-weight="normal" stroke="#231f20" stroke-width="0.15" textLength="18.80" lengthAdjust="spacingAndGlyphs" >sgAK2</text>
<rect x="470.40" y="38.70" width="5.50" height="5.50" fill="#e08b7a" stroke="none" stroke-width="0" />
<text x="479.80" y="43.60" font-size="6.4" fill="#231f20" font-weight="normal" stroke="#231f20" stroke-width="0.15" textLength="32.40" lengthAdjust="spacingAndGlyphs" >sgAK2+CR</text>
<path d="M447.8,95.5 V66.8 H461.4 V80.4" stroke="#666" stroke-width="0.75" fill="none" />
<text x="454.60" y="67.80" font-size="6.8" text-anchor="middle" fill="#231f20" font-weight="normal"  stroke="none">*</text>
<text x="0" y="0" font-size="8.4" text-anchor="middle" fill="#231f20" stroke="#231f20" stroke-width="0.15" textLength="61.5" lengthAdjust="spacingAndGlyphs" transform="translate(351.8,74.7) rotate(-90)">% GFP-positive cells</text>
<line x1="371.20" y1="175.90" x2="371.20" y2="261.50" stroke="#231f20" stroke-width="1.1" />
<line x1="370.70" y1="261.00" x2="469.50" y2="261.00" stroke="#231f20" stroke-width="1.1" />
<line x1="368.20" y1="261.00" x2="371.20" y2="261.00" stroke="#231f20" stroke-width="0.9" />
<text x="361.20" y="262.80" font-size="6.4" fill="#231f20" font-weight="normal" stroke="#231f20" stroke-width="0.15" textLength="3.80" lengthAdjust="spacingAndGlyphs" >0</text>
<line x1="368.20" y1="240.30" x2="371.20" y2="240.30" stroke="#231f20" stroke-width="0.9" />
<text x="357.40" y="242.10" font-size="6.4" fill="#231f20" font-weight="normal" stroke="#231f20" stroke-width="0.15" textLength="7.60" lengthAdjust="spacingAndGlyphs" >20</text>
<line x1="368.20" y1="219.60" x2="371.20" y2="219.60" stroke="#231f20" stroke-width="0.9" />
<text x="357.40" y="221.40" font-size="6.4" fill="#231f20" font-weight="normal" stroke="#231f20" stroke-width="0.15" textLength="7.60" lengthAdjust="spacingAndGlyphs" >40</text>
<line x1="368.20" y1="198.90" x2="371.20" y2="198.90" stroke="#231f20" stroke-width="0.9" />
<text x="357.40" y="200.70" font-size="6.4" fill="#231f20" font-weight="normal" stroke="#231f20" stroke-width="0.15" textLength="7.60" lengthAdjust="spacingAndGlyphs" >60</text>
<line x1="368.20" y1="178.20" x2="371.20" y2="178.20" stroke="#231f20" stroke-width="0.9" />
<text x="357.40" y="180.00" font-size="6.4" fill="#231f20" font-weight="normal" stroke="#231f20" stroke-width="0.15" textLength="7.60" lengthAdjust="spacingAndGlyphs" >80</text>
<rect x="376.00" y="192.69" width="7.60" height="68.31" fill="#2ea3df" stroke="none" stroke-width="0" />
<circle cx="378.00" cy="192.77" r="1.3" fill="#231f20"/>
<circle cx="379.80" cy="191.74" r="1.3" fill="#231f20"/>
<circle cx="381.60" cy="193.29" r="1.3" fill="#231f20"/>
<rect x="388.80" y="192.69" width="8.00" height="68.31" fill="#b6d3f0" stroke="none" stroke-width="0" />
<circle cx="391.00" cy="192.77" r="1.3" fill="#231f20"/>
<circle cx="392.80" cy="191.74" r="1.3" fill="#231f20"/>
<circle cx="394.60" cy="193.29" r="1.3" fill="#231f20"/>
<rect x="410.50" y="202.00" width="8.10" height="59.00" fill="#2ea3df" stroke="none" stroke-width="0" />
<circle cx="412.75" cy="202.60" r="1.3" fill="#231f20"/>
<circle cx="414.55" cy="201.57" r="1.3" fill="#231f20"/>
<circle cx="416.35" cy="202.09" r="1.3" fill="#231f20"/>
<rect x="424.00" y="221.15" width="7.80" height="39.85" fill="#b6d3f0" stroke="none" stroke-width="0" />
<circle cx="426.10" cy="220.72" r="1.3" fill="#231f20"/>
<circle cx="427.90" cy="221.75" r="1.3" fill="#231f20"/>
<circle cx="429.70" cy="220.20" r="1.3" fill="#231f20"/>
<rect x="445.20" y="214.94" width="8.00" height="46.06" fill="#2ea3df" stroke="none" stroke-width="0" />
<line x1="449.20" y1="216.14" x2="449.20" y2="210.28" stroke="#231f20" stroke-width="0.9" />
<line x1="447.00" y1="210.28" x2="451.40" y2="210.28" stroke="#666" stroke-width="0.8" />
<path d="M447.70,210.88 L450.70,210.88 L449.20,213.28 Z" fill="#231f20"/>
<circle cx="449.20" cy="215.54" r="1.0" fill="#231f20" opacity="0.7"/>
<rect x="458.40" y="244.96" width="7.80" height="16.04" fill="#b6d3f0" stroke="none" stroke-width="0" />
<circle cx="460.50" cy="245.04" r="1.3" fill="#231f20"/>
<circle cx="462.30" cy="244.00" r="1.3" fill="#231f20"/>
<circle cx="464.10" cy="245.04" r="1.3" fill="#231f20"/>
<line x1="386.00" y1="261.00" x2="386.00" y2="263.80" stroke="#231f20" stroke-width="0.9" />
<text x="384.15" y="273.20" font-size="6.4" fill="#231f20" font-weight="normal" stroke="#231f20" stroke-width="0.15" textLength="3.70" lengthAdjust="spacingAndGlyphs" >2</text>
<line x1="419.90" y1="261.00" x2="419.90" y2="263.80" stroke="#231f20" stroke-width="0.9" />
<text x="418.05" y="273.20" font-size="6.4" fill="#231f20" font-weight="normal" stroke="#231f20" stroke-width="0.15" textLength="3.70" lengthAdjust="spacingAndGlyphs" >7</text>
<line x1="454.60" y1="261.00" x2="454.60" y2="263.80" stroke="#231f20" stroke-width="0.9" />
<text x="450.90" y="273.20" font-size="6.4" fill="#231f20" font-weight="normal" stroke="#231f20" stroke-width="0.15" textLength="7.40" lengthAdjust="spacingAndGlyphs" >12</text>
<text x="413.10" y="284.80" font-size="8.8" fill="#231f20" font-weight="normal" stroke="#231f20" stroke-width="0.15" textLength="14.10" lengthAdjust="spacingAndGlyphs" >Days</text>
<text x="409.80" y="172.60" font-size="8.2" fill="#231f20" font-weight="normal" stroke="#231f20" stroke-width="0.15" textLength="15.80" lengthAdjust="spacingAndGlyphs" >TKO</text>
<rect x="468.20" y="173.60" width="5.50" height="5.50" fill="#2ea3df" stroke="none" stroke-width="0" />
<text x="477.00" y="178.10" font-size="6.4" fill="#231f20" font-weight="normal" stroke="#231f20" stroke-width="0.15" textLength="19.00" lengthAdjust="spacingAndGlyphs" >sgAK2</text>
<rect x="468.20" y="183.40" width="5.50" height="5.50" fill="#b6d3f0" stroke="none" stroke-width="0" />
<text x="477.00" y="188.60" font-size="6.4" fill="#231f20" font-weight="normal" stroke="#231f20" stroke-width="0.15" textLength="36.00" lengthAdjust="spacingAndGlyphs" >sgAK2+cCR</text>
<path d="M414.4,198.7 V183.0 H427.6 V217.4" stroke="#666" stroke-width="0.75" fill="none" />
<text x="421.00" y="184.00" font-size="6.8" text-anchor="middle" fill="#231f20" font-weight="normal"  stroke="none">***</text>
<path d="M448.9,209 V183.0 H462.3 V242" stroke="#666" stroke-width="0.75" fill="none" />
<text x="455.60" y="184.00" font-size="6.8" text-anchor="middle" fill="#231f20" font-weight="normal"  stroke="none">**</text>
<text x="0" y="0" font-size="8.4" text-anchor="middle" fill="#231f20" stroke="#231f20" stroke-width="0.15" textLength="61.5" lengthAdjust="spacingAndGlyphs" transform="translate(351.8,216.2) rotate(-90)">% GFP-positive cells</text>
<path d="M276.35,296.40 L281.21,299.34 L288.78,299.37 L287.27,303.08 L291.85,306.06 L285.11,307.73 L283.25,311.42 L276.35,309.80 L269.45,311.42 L267.59,307.73 L260.85,306.06 L265.43,303.08 L263.92,299.37 L271.49,299.34 Z" fill="#c8102e" stroke="#7a0a1e" stroke-width="0.5"/>
<text x="270.45" y="307.00" font-size="6.6" fill="#fff" font-weight="normal" stroke="#fff" stroke-width="0.15" textLength="11.50" lengthAdjust="spacingAndGlyphs" >ATP</text>
<path d="M371.40,296.10 L376.09,299.04 L383.28,299.07 L381.93,302.78 L386.22,305.76 L379.84,307.43 L378.00,311.12 L371.40,309.50 L364.80,311.12 L362.96,307.43 L356.58,305.76 L360.87,302.78 L359.52,299.07 L366.71,299.04 Z" fill="#c8102e" stroke="#7a0a1e" stroke-width="0.5"/>
<text x="365.65" y="306.80" font-size="6.6" fill="#fff" font-weight="normal" stroke="#fff" stroke-width="0.15" textLength="11.50" lengthAdjust="spacingAndGlyphs" >ATP</text>
<rect x="242.70" y="326.30" width="86.20" height="49.80" fill="none" stroke="#555" stroke-width="0.9" rx="6.5"/>
<rect x="254.20" y="339.30" width="59.80" height="22.00" fill="none" stroke="#555" stroke-width="0.9" rx="4"/>
<ellipse cx="262.70" cy="333.30" rx="14.20" ry="3.80" fill="#c8102e" stroke="#7a0a1e" stroke-width="0.4" />
<text x="256.95" y="335.60" font-size="6.6" fill="#fff" font-weight="normal" stroke="#fff" stroke-width="0.15" textLength="11.50" lengthAdjust="spacingAndGlyphs" >AK2</text>
<ellipse cx="285.00" cy="370.10" rx="13.60" ry="4.10" fill="#c8102e" stroke="#7a0a1e" stroke-width="0.4" />
<text x="279.25" y="372.50" font-size="6.6" fill="#fff" font-weight="normal" stroke="#fff" stroke-width="0.15" textLength="11.50" lengthAdjust="spacingAndGlyphs" >AK2</text>
<path d="M268.3,329.6 V320.6 H274.7 V316.5" stroke="#231f20" stroke-width="0.9" fill="none" />
<path d="M274.70,313.60 L276.30,317.60 L274.70,316.60 L273.10,317.60 Z" fill="#231f20"/>
<line x1="277.20" y1="333.30" x2="280.80" y2="333.30" stroke="#231f20" stroke-width="0.9" />
<path d="M283.60,333.30 L279.60,334.90 L280.60,333.30 L279.60,331.70 Z" fill="#231f20"/>
<text x="284.80" y="335.80" font-size="6.6" fill="#231f20" font-weight="normal" stroke="#231f20" stroke-width="0.15" textLength="14.00" lengthAdjust="spacingAndGlyphs" >AMP</text>
<text x="309.30" y="335.40" font-size="6.6" fill="#4a79b8" font-weight="normal" stroke="#4a79b8" stroke-width="0.15" textLength="13.60" lengthAdjust="spacingAndGlyphs" >ADP</text>
<ellipse cx="321.40" cy="351.20" rx="10.40" ry="6.20" fill="#8898c8" stroke="#4a5a90" stroke-width="0.7" />
<text x="316.90" y="353.60" font-size="6.4" fill="#2a3a70" font-weight="normal" stroke="#2a3a70" stroke-width="0.15" textLength="9.00" lengthAdjust="spacingAndGlyphs" >CK</text>
<text x="265.80" y="353.20" font-size="6.6" fill="#4a79b8" font-weight="normal" stroke="#4a79b8" stroke-width="0.15" textLength="14.40" lengthAdjust="spacingAndGlyphs" >ADP</text>
<text x="289.20" y="354.10" font-size="6.6" fill="#d2143a" font-weight="normal" stroke="#d2143a" stroke-width="0.15" textLength="12.10" lengthAdjust="spacingAndGlyphs" >ATP</text>
<path d="M273.5,347 C275,340 282,339.5 286,340.5 C290,341.5 292,343.5 292.6,345" stroke="#231f20" stroke-width="0.9" fill="none" />
<path d="M292.90,347.50 L290.63,343.84 L292.38,344.55 L293.78,343.28 Z" fill="#231f20"/>
<path d="M295,355.5 C297,360 295,364 290.5,366.2" stroke="#231f20" stroke-width="0.9" fill="none" />
<line x1="307.50" y1="369.90" x2="298.60" y2="369.90" stroke="#231f20" stroke-width="0.9" />
<text x="308.00" y="372.20" font-size="6.6" fill="#231f20" font-weight="normal" stroke="#231f20" stroke-width="0.15" textLength="14.50" lengthAdjust="spacingAndGlyphs" >AMP</text>
<line x1="271.40" y1="369.90" x2="268.00" y2="369.90" stroke="#231f20" stroke-width="0.9" />
<path d="M264.80,369.90 L268.80,368.30 L267.80,369.90 L268.80,371.50 Z" fill="#231f20"/>
<text x="245.00" y="372.20" font-size="6.6" fill="#4a79b8" font-weight="normal" stroke="#4a79b8" stroke-width="0.15" textLength="16.50" lengthAdjust="spacingAndGlyphs" >2ADP</text>
<path d="M247.6,365 C244.5,358 244.5,347 247.5,342 C249,339.5 251,338 253.5,337" stroke="#231f20" stroke-width="0.9" fill="none" />
<path d="M302,352.5 C305,352.8 308.5,351.8 311.2,350.5" stroke="#231f20" stroke-width="0.9" fill="none" />
<line x1="314.00" y1="345.30" x2="315.00" y2="340.50" stroke="#231f20" stroke-width="0.9" />
<path d="M315.30,337.70 L316.03,341.95 L314.68,340.63 L312.90,341.28 Z" fill="#231f20"/>
<path d="M345.5,361.1 C338,362 332.5,357 332.8,351 C333,349 333.3,348 333.8,347.5" stroke="#231f20" stroke-width="0.9" fill="none" />
<path d="M334.40,344.80 L334.54,349.11 L333.37,347.62 L331.53,348.01 Z" fill="#231f20"/>
<text x="336.00" y="343.10" font-size="6.6" fill="#231f20" font-weight="normal" stroke="#231f20" stroke-width="0.15" textLength="12.90" lengthAdjust="spacingAndGlyphs" >P-Cr</text>
<text x="352.70" y="356.20" font-size="6.6" fill="#231f20" font-weight="normal" stroke="#231f20" stroke-width="0.15" textLength="6.10" lengthAdjust="spacingAndGlyphs" >Cr</text>
<path d="M345.8,333.9 C353,331.5 360,334.5 360.6,341 L360.8,346" stroke="#231f20" stroke-width="0.9" fill="none" />
<path d="M360.90,349.00 L359.30,345.00 L360.90,346.00 L362.50,345.00 Z" fill="#231f20"/>
<path d="M376.3,332.4 C370,338.5 359,339 357.3,331 C356,324 362,316 367.5,313.8" stroke="#231f20" stroke-width="0.9" fill="none" />
<path d="M369.40,312.80 L366.74,316.19 L366.80,314.30 L365.14,313.41 Z" fill="#231f20"/>
<path d="M384.4,306.8 C392,307 399,311 399.2,316 C399.4,321 395,325 390.5,326.2" stroke="#231f20" stroke-width="0.9" fill="none" />
<path d="M388.00,326.40 L391.85,324.46 L390.99,326.14 L392.12,327.65 Z" fill="#231f20"/>
<text x="372.40" y="330.20" font-size="6.6" fill="#4a79b8" font-weight="normal" stroke="#4a79b8" stroke-width="0.15" textLength="14.30" lengthAdjust="spacingAndGlyphs" >ADP</text>
<rect x="398.40" y="310.40" width="26.10" height="10.10" fill="#9ba8d2" stroke="#4d5b8d" stroke-width="0.7" />
<text x="405.20" y="318.00" font-size="8.0" fill="#1e2a55" font-weight="normal" stroke="#1e2a55" stroke-width="0.15" textLength="13.60" lengthAdjust="spacingAndGlyphs" >MAT</text>
<text x="406.80" y="302.80" font-size="6.6" fill="#231f20" font-weight="normal" stroke="#231f20" stroke-width="0.15" textLength="39.20" lengthAdjust="spacingAndGlyphs" >L-Methionine</text>
<line x1="425.00" y1="306.50" x2="425.00" y2="322.60" stroke="#231f20" stroke-width="0.9" />
<path d="M425.00,325.60 L423.40,321.60 L425.00,322.60 L426.60,321.60 Z" fill="#231f20"/>
<text x="417.70" y="333.90" font-size="6.6" fill="#231f20" font-weight="normal" stroke="#231f20" stroke-width="0.15" textLength="14.70" lengthAdjust="spacingAndGlyphs" >SAM</text>
<line x1="425.00" y1="338.30" x2="425.00" y2="353.60" stroke="#231f20" stroke-width="0.9" />
<path d="M425.00,356.60 L423.40,352.60 L425.00,353.60 L426.60,352.60 Z" fill="#231f20"/>
<rect x="425.60" y="341.70" width="31.10" height="10.20" fill="#74c466" stroke="#347a30" stroke-width="0.8" rx="5.1"/>
<text x="432.40" y="349.20" font-size="7.8" fill="#1c521c" font-weight="normal" stroke="#1c521c" stroke-width="0.15" textLength="18.20" lengthAdjust="spacingAndGlyphs" >NSD2</text>
<text x="418.80" y="364.50" font-size="6.6" fill="#231f20" font-weight="normal" stroke="#231f20" stroke-width="0.15" textLength="12.50" lengthAdjust="spacingAndGlyphs" >SAH</text>
<path d="M414.3,332.6 C406,334 402.5,342 403.5,349 C404.5,356 408,360 413,361.4" stroke="#231f20" stroke-width="0.9" fill="none" />
<path d="M416.00,361.60 L411.78,362.48 L413.05,361.08 L412.34,359.33 Z" fill="#231f20"/>
<path d="M364.6,352.4 C372,349 385,343 393,344.3 C399,345.3 403,347.5 404.2,350.3 C404,359 396,369 377.5,379.2" stroke="#231f20" stroke-width="0.8" fill="none" />
<path d="M362.20,353.30 L365.41,350.43 L365.02,352.27 L366.51,353.44 Z" fill="#231f20"/>
<g transform="translate(385.7,356.2) rotate(-17.5)"><ellipse cx="0" cy="0" rx="19.4" ry="4.8" fill="#6e4b2c" stroke="#3a2816" stroke-width="0.7"/><text x="-10" y="2.7" font-size="7.4" fill="#f2dcc0" textLength="20" lengthAdjust="spacingAndGlyphs">GAMT</text></g>
<text x="328.00" y="383.60" font-size="6.6" fill="#231f20" font-weight="normal" stroke="#231f20" stroke-width="0.15" textLength="51.20" lengthAdjust="spacingAndGlyphs" >Guanidinoacetate</text>
</svg>
</body></html>
